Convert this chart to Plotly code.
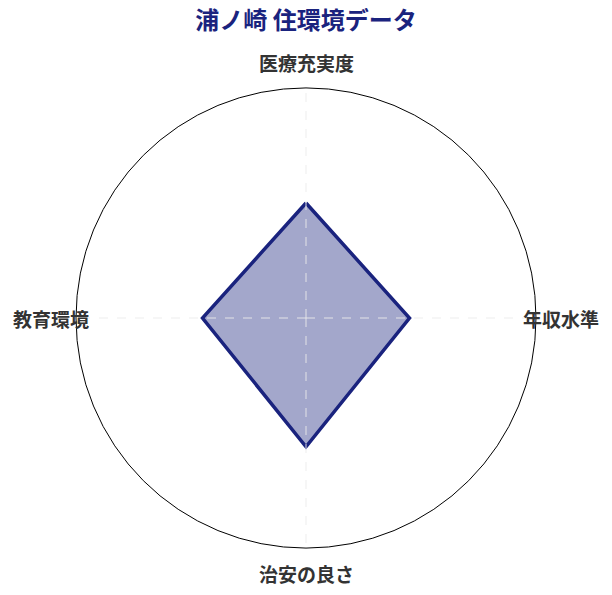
import math
import plotly.graph_objects as go

categories = ["医療充実度", "年収水準", "治安の良さ", "教育環境"]
values = [50, 45, 56, 45]
r_max = 100

NAVY = "#1a237e"
FONT = "Noto Sans CJK JP"

# figure size chosen so the page (with the 8px body margin) is 612x595
W, H = 596, 579
PLOT = 460  # polar domain size in px
LABEL_DIST = 255 / 230  # label centre distance, in radii

fig = go.Figure()
fig.add_trace(go.Scatterpolar(
    r=values + values[:1],
    theta=categories + categories[:1],
    mode="lines",
    fill="toself",
    fillcolor="rgba(26, 35, 126, 0.4)",
    line=dict(color=NAVY, width=3.5),
    hoverinfo="skip",
))

# spokes drawn over the filled area (light dashed)
spoke_r, spoke_t = [], []
for cat in categories:
    spoke_r += [0, r_max, None]
    spoke_t += [cat, cat, cat]
fig.add_trace(go.Scatterpolar(
    r=spoke_r,
    theta=spoke_t,
    mode="lines",
    line=dict(color="rgba(235, 235, 235, 0.9)", width=1, dash="dash"),
    connectgaps=False,
    hoverinfo="skip",
))

# category labels centred around the circle
n = len(categories)
for i, cat in enumerate(categories):
    ang = math.radians(90 - i * 360 / n)
    fig.add_annotation(
        text=f"<b>{cat}</b>",
        xref="paper", yref="paper",
        x=0.5 + 0.5 * LABEL_DIST * math.cos(ang),
        y=0.5 + 0.5 * LABEL_DIST * math.sin(ang),
        xanchor="center", yanchor="middle",
        showarrow=False,
        font=dict(family=FONT, size=19, color="#333333"),
    )

fig.update_layout(
    width=W,
    height=H,
    margin=dict(l=(W - PLOT) / 2, r=(W - PLOT) / 2, t=80, b=H - 80 - PLOT),
    paper_bgcolor="white",
    showlegend=False,
    font=dict(family=FONT),
    title=dict(
        text="<b>浦ノ崎 住環境データ</b>",
        x=0.5, xanchor="center",
        yref="container", y=1 - 13 / H, yanchor="middle",
        font=dict(family=FONT, size=24, color=NAVY),
    ),
    polar=dict(
        bgcolor="white",
        domain=dict(x=[0, 1], y=[0, 1]),
        radialaxis=dict(
            range=[0, r_max],
            showticklabels=False,
            ticks="",
            showgrid=False,
            showline=False,
        ),
        angularaxis=dict(
            direction="clockwise",
            rotation=90,
            showline=True,
            linecolor="black",
            linewidth=1,
            showgrid=False,
            layer="above traces",
            ticks="",
            showticklabels=False,
        ),
    ),
)

fig.write_html("out.html")
